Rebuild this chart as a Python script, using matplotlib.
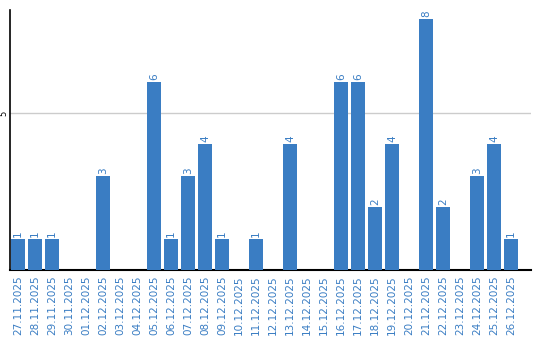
import matplotlib
matplotlib.use("Agg")
import matplotlib.pyplot as plt

dates = ["27.11.2025", "28.11.2025", "29.11.2025", "30.11.2025", "01.12.2025",
         "02.12.2025", "03.12.2025", "04.12.2025", "05.12.2025", "06.12.2025",
         "07.12.2025", "08.12.2025", "09.12.2025", "10.12.2025", "11.12.2025",
         "12.12.2025", "13.12.2025", "14.12.2025", "15.12.2025", "16.12.2025",
         "17.12.2025", "18.12.2025", "19.12.2025", "20.12.2025", "21.12.2025",
         "22.12.2025", "23.12.2025", "24.12.2025", "25.12.2025", "26.12.2025"]
values = [1, 1, 1, 0, 0, 3, 0, 0, 6, 1, 3, 4, 1, 0, 1, 0, 4, 0, 0, 6,
          6, 2, 4, 0, 8, 2, 0, 3, 4, 1]

blue = "#3a7dc3"
fig = plt.figure(figsize=(5.4, 3.4), dpi=100)
ax = fig.add_axes([10/540, 70/340, 521/540, 260/340])
x = list(range(len(dates)))
ax.bar(x, values, width=0.82, color=blue, zorder=3)
for xi, v in zip(x, values):
    if v > 0:
        ax.annotate(str(v), (xi, v), xytext=(0, 1.5), textcoords="offset points",
                    rotation=90, ha="center", va="bottom", color=blue, fontsize=7.5)
ax.set_xlim(-0.47, 30.17)
ax.set_ylim(0, 8.28)
ax.set_yticks([5])
ax.set_yticklabels(["5"], rotation=90, va="center", fontsize=6)
ax.yaxis.grid(True, color="#cccccc", linewidth=1, zorder=0)
ax.tick_params(axis="y", length=0, pad=1)
ax.set_xticks(x)
ax.set_xticklabels(dates, rotation=90, color=blue, fontsize=7.5)
ax.tick_params(axis="x", length=0, pad=4)
for s in ["top", "right"]:
    ax.spines[s].set_visible(False)
ax.spines["left"].set_linewidth(1.2)
ax.spines["bottom"].set_linewidth(1.5)
fig.savefig("out.png", dpi=100)
